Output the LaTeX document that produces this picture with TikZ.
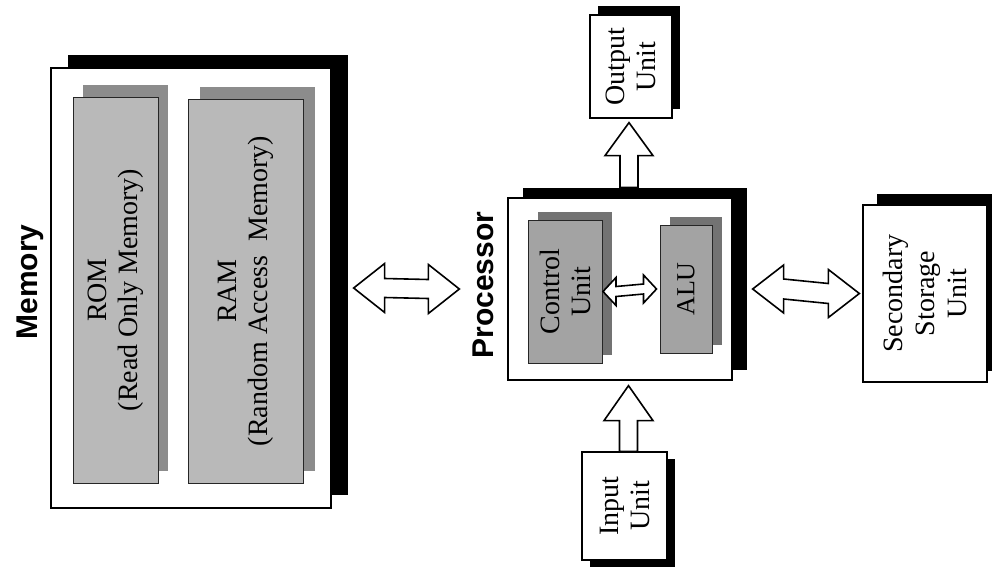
\documentclass[tikz,border=0pt]{standalone}
\usepackage{fontspec}
\setmainfont{Liberation Serif}
\newfontfamily\labelsans{Liberation Sans}
\usetikzlibrary{shadows,calc}

\tikzset{
  unitbox/.style={draw=black, line width=1.3pt, fill=white, inner sep=0pt},
  graybox/.style={draw=black!85, line width=1pt, fill=gray!55, inner sep=0pt},
  darkbox/.style={draw=black!85, line width=1pt, fill=gray!72, inner sep=0pt},
  boxtext/.style={rotate=90, align=center, font=\fontsize{28}{31}\selectfont, inner sep=0pt},
  titletext/.style={rotate=90, font=\labelsans\bfseries\fontsize{30}{36}\selectfont, inner sep=0pt},
  blk/.style={draw=black, line width=1.6pt, fill=white, line join=miter},
}

\newcommand{\blockdbl}[5]{%
  \draw[blk] (#1) -- ([shift={(#3,-#4)}]#1) -- ([shift={(#3,-#5)}]#1)
   -- ([shift={(-#3,-#5)}]#2) -- ([shift={(-#3,-#4)}]#2) -- (#2)
   -- ([shift={(-#3,#4)}]#2) -- ([shift={(-#3,#5)}]#2)
   -- ([shift={(#3,#5)}]#1) -- ([shift={(#3,#4)}]#1) -- cycle;}

\newcommand{\blockup}[5]{%
  \draw[blk] (#2) -- ([shift={(#4,#3)}]#2) -- ([shift={(#5,#3)}]#2)
   -- ([shift={(#5,0)}]#1) -- ([shift={(-#5,0)}]#1)
   -- ([shift={(-#5,#3)}]#2) -- ([shift={(-#4,#3)}]#2) -- cycle;}

\begin{document}
\begin{tikzpicture}[x=1pt,y=-1pt]
\useasboundingbox[fill=white] (0,0) rectangle (992,571);

% Memory
\node[unitbox, minimum width=280pt, minimum height=440pt,
      general shadow={fill=black, shadow xshift=17pt, shadow yshift=13pt}] (mem) at (191,288) {};
\node[graybox, minimum width=85pt, minimum height=386pt,
      general shadow={fill=black!45, shadow xshift=10pt, shadow yshift=12pt}] (rom) at (115.5,290) {};
\node[boxtext] at (rom) {ROM\\(Read Only Memory)};
\node[graybox, minimum width=115pt, minimum height=384pt,
      general shadow={fill=black!45, shadow xshift=12pt, shadow yshift=12pt}] (ram) at (245.5,291) {};
\node[boxtext] at (ram) {RAM\\(Random Access\ \ Memory)};
\node[titletext] (memlabel) at (30,282) {Memory};

% Processor
\node[unitbox, minimum width=224pt, minimum height=182pt,
      general shadow={fill=black, shadow xshift=15pt, shadow yshift=10pt}] (proc) at (620,289) {};
\node[darkbox, minimum width=74pt, minimum height=143pt,
      general shadow={fill=black!55, shadow xshift=10pt, shadow yshift=8pt}] (cu) at (565,291.5) {};
\node[boxtext] at (cu) {Control\\Unit};
\node[darkbox, minimum width=52pt, minimum height=128pt,
      general shadow={fill=black!55, shadow xshift=10pt, shadow yshift=8pt}] (alu) at (686,289) {};
\node[boxtext, font=\fontsize{26}{30}\selectfont] at (alu) {ALU};
\node[titletext] (proclabel) at (483,285) {Processor};

% Output
\node[unitbox, minimum width=82pt, minimum height=103pt,
      general shadow={fill=black, shadow xshift=8pt, shadow yshift=9pt}] (out) at (631,66.5) {};
\node[boxtext] at (out) {Output\\Unit};

% Input
\node[unitbox, minimum width=85pt, minimum height=108pt,
      general shadow={fill=black, shadow xshift=8pt, shadow yshift=-7pt}] (inp) at (624.5,506) {};
\node[boxtext] at (inp) {Input\\Unit};

% Secondary storage
\node[unitbox, minimum width=124pt, minimum height=177pt,
      general shadow={fill=black, shadow xshift=14pt, shadow yshift=11pt}] (sec) at (925,293.5) {};
\node[boxtext, font=\fontsize{28}{32}\selectfont] at (sec) {Secondary\\Storage\\Unit};

% Connector end points
\coordinate (mp1) at ([xshift=22pt]mem.east);
\coordinate (mp2) at ([xshift=-48pt]proc.west);
\coordinate (ps1) at ([xshift=20pt]proc.east);
\coordinate (ps2) at ([xshift=-3pt]sec.west);
\coordinate (ca1) at ([xshift=0.5pt]cu.east);
\coordinate (ca2) at ([xshift=-3pt]alu.west);
\coordinate (po1) at ([xshift=9pt,yshift=10pt]proc.north);
\coordinate (po2) at ($(po1 |- out.south)+(0,4)$);
\coordinate (ip1) at ($(inp.north)+(4,0)$);
\coordinate (ip2) at ($(ip1 |- proc.south)+(0,5)$);

% Block arrows
\blockdbl{mp1}{mp2}{31}{24.5}{9.5}
\blockdbl{ps1}{ps2}{31}{24}{10}
\blockdbl{ca1}{ca2}{13}{14}{5}
\blockup{po1}{po2}{33}{24}{9}
\blockup{ip1}{ip2}{35}{24.5}{9}
\end{tikzpicture}
\end{document}
